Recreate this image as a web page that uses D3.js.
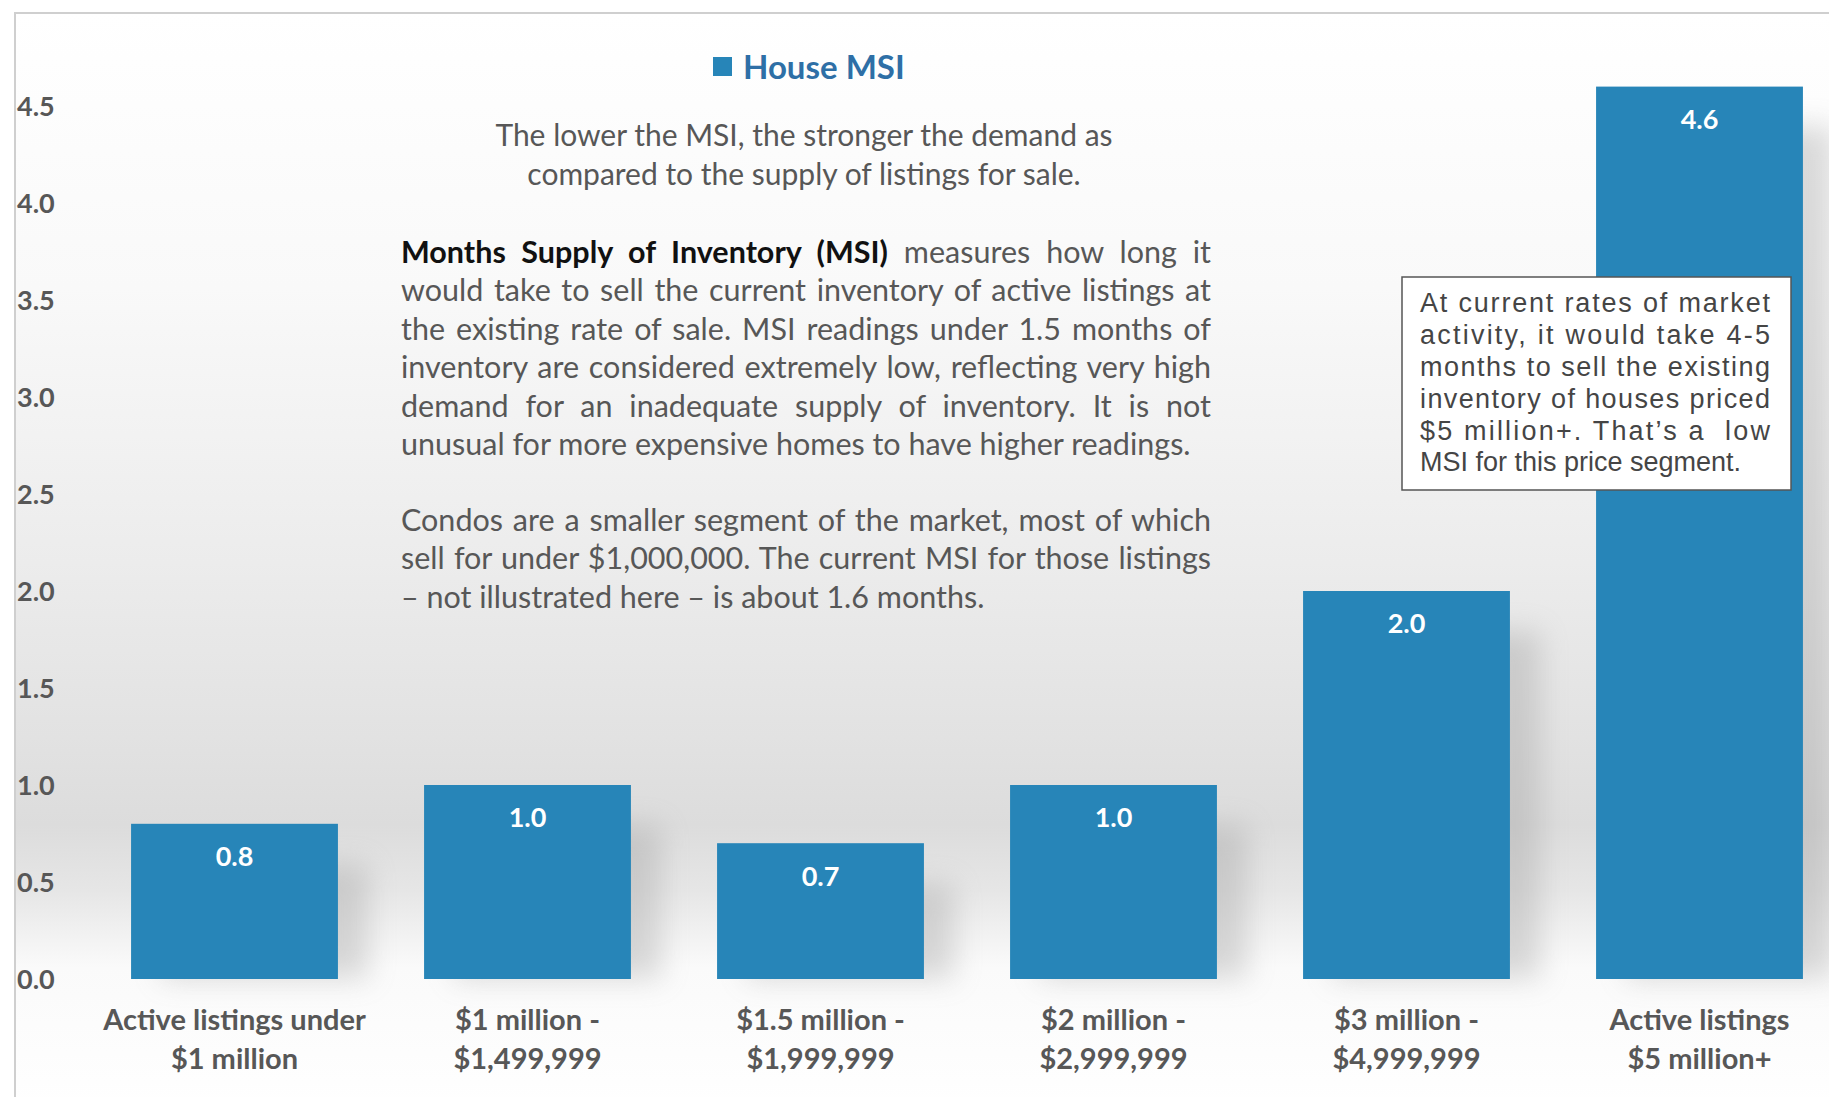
<!DOCTYPE html>
<html>
<head>
<meta charset="utf-8">
<script src="https://cdn.jsdelivr.net/npm/d3@7"></script>
<style>
  html, body { margin: 0; padding: 0; background: #fff; }
  svg { display: block; font-family: Lato, "Open Sans", sans-serif; }
</style>
</head>
<body>
<div id="chart"></div>
<script>
const categories = [
  ['Active listings under', '$1 million'],
  ['$1 million -', '$1,499,999'],
  ['$1.5 million -', '$1,999,999'],
  ['$2 million -', '$2,999,999'],
  ['$3 million -', '$4,999,999'],
  ['Active listings', '$5 million+'],
];
const houseMsi = [0.8, 1.0, 0.7, 1.0, 2.0, 4.6];
const yTicks = [0, 0.5, 1, 1.5, 2, 2.5, 3, 3.5, 4, 4.5];
const seriesName = 'House MSI';

const subtitleLines = [
  'The lower the MSI, the stronger the demand as',
  'compared to the supply of listings for sale.',
];
// [bold lead, rest, justify?]
const paragraphLines = [
  ['Months Supply of Inventory (MSI)', ' measures how long it', true],
  ['', 'would take to sell the current inventory of active listings at', true],
  ['', 'the existing rate of sale. MSI readings under 1.5 months of', true],
  ['', 'inventory are considered extremely low, reflecting very high', true],
  ['', 'demand for an inadequate supply of inventory. It is not', true],
  ['', 'unusual for more expensive homes to have higher readings.', false],
];
const condoLines = [
  ['Condos are a smaller segment of the market, most of which', true],
  ['sell for under $1,000,000. The current MSI for those listings', true],
  ['\u2013 not illustrated here \u2013 is about 1.6 months.', false],
];
const noteLines = [
  ['At current rates of market', true],
  ['activity, it would take 4-5', true],
  ['months to sell the existing', true],
  ['inventory of houses priced', true],
  ['$5 million+. That\u2019s a  low', true],
  ['MSI for this price segment.', false],
];

const width = 1829;
const height = 1097;
const barColor = '#2785b8';
const textGray = '#575757';

const svg = d3.select('#chart').append('svg')
  .attr('width', width)
  .attr('height', height);

const defs = svg.append('defs');
const bg = defs.append('linearGradient')
  .attr('id', 'bg')
  .attr('x1', 0).attr('y1', 0).attr('x2', 0).attr('y2', 1);
[[0, '#ffffff'], [0.25, '#f9f9f9'], [0.5, '#ececec'], [0.66, '#e2e2e2'],
 [0.74, '#dcdcdc'], [0.8, '#e6e6e6'], [0.87, '#fafafa'], [1, '#ffffff']]
  .forEach(([o, c]) => bg.append('stop').attr('offset', o).attr('stop-color', c));

const blur = defs.append('filter').attr('id', 'shadow')
  .attr('x', '-50%').attr('y', '-50%').attr('width', '200%').attr('height', '200%');
blur.append('feGaussianBlur').attr('stdDeviation', 14);

// spread the spaces so a line fills the given width
function justify(sel, target) {
  const node = sel.node();
  const natural = node.getComputedTextLength();
  const spaces = (node.textContent.match(/ /g) || []).length;
  if (spaces > 0) sel.attr('word-spacing', (target - natural) / spaces);
}

svg.append('rect')
  .attr('width', width)
  .attr('height', height)
  .attr('fill', '#fff');

svg.append('rect')
  .attr('x', 15)
  .attr('y', 13)
  .attr('width', width + 20)
  .attr('height', height)
  .attr('fill', 'url(#bg)')
  .attr('stroke', '#cfcfcf')
  .attr('stroke-width', 2);

const x = d3.scaleBand()
  .domain(d3.range(categories.length))
  .range([88, 1846])
  .paddingInner(0.294)
  .paddingOuter(0.147);

const y = d3.scaleLinear()
  .domain([0, 4.5])
  .range([979, 979 - 4.5 * 194]);

// y axis labels
const yAxis = svg.append('g')
  .attr('transform', 'translate(17,0)')
  .call(d3.axisLeft(y).tickValues(yTicks).tickSize(0).tickFormat(d3.format('.1f')));
yAxis.select('.domain').remove();
yAxis.selectAll('text')
  .attr('x', 0)
  .attr('dy', '0.35em')
  .attr('text-anchor', 'start')
  .attr('fill', textGray)
  .attr('font-family', 'Lato, sans-serif')
  .attr('font-weight', 700)
  .attr('font-size', 27);

// bar shadows
svg.append('g').selectAll('rect')
  .data(houseMsi)
  .join('rect')
  .attr('x', (d, i) => x(i) + 30)
  .attr('y', (d) => y(d) + 40)
  .attr('width', x.bandwidth())
  .attr('height', (d) => y(0) - y(d) - 40)
  .attr('fill', '#9a9a9a')
  .attr('opacity', 0.35)
  .attr('filter', 'url(#shadow)');

svg.append('g').selectAll('rect')
  .data(houseMsi)
  .join('rect')
  .attr('x', (d, i) => x(i))
  .attr('y', (d) => y(d))
  .attr('width', x.bandwidth())
  .attr('height', (d) => y(0) - y(d))
  .attr('fill', barColor);

svg.append('g').selectAll('text')
  .data(houseMsi)
  .join('text')
  .attr('x', (d, i) => x(i) + x.bandwidth() / 2)
  .attr('y', (d) => y(d) + 33)
  .attr('dy', '0.35em')
  .attr('text-anchor', 'middle')
  .attr('fill', '#fff')
  .attr('font-weight', 700)
  .attr('font-size', 27)
  .text((d) => d3.format('.1f')(d));

// x axis category labels
const xAxis = svg.append('g').selectAll('text')
  .data(categories)
  .join('text')
  .attr('x', (d, i) => x(i) + x.bandwidth() / 2)
  .attr('y', 1020)
  .attr('text-anchor', 'middle')
  .attr('fill', textGray)
  .attr('font-weight', 700)
  .attr('font-size', 29);
xAxis.selectAll('tspan')
  .data((d) => d)
  .join('tspan')
  .attr('x', function () { return this.parentNode.getAttribute('x'); })
  .attr('dy', (d, i) => (i === 0 ? '0.35em' : 39))
  .text((d) => d);

// legend
svg.append('rect')
  .attr('x', 713).attr('y', 57)
  .attr('width', 19).attr('height', 19)
  .attr('fill', barColor);
svg.append('text')
  .attr('x', 743).attr('y', 67)
  .attr('dy', '0.35em')
  .attr('fill', '#2e6fa6')
  .attr('font-weight', 700)
  .attr('font-size', 33)
  .text(seriesName);

// subtitle
svg.append('g').selectAll('text')
  .data(subtitleLines)
  .join('text')
  .attr('x', 804)
  .attr('y', (d, i) => 135 + i * 39)
  .attr('dy', '0.35em')
  .attr('text-anchor', 'middle')
  .attr('fill', textGray)
  .attr('font-size', 30)
  .text((d) => d);

// main paragraph, justified
const para = svg.append('g').attr('font-size', 30.5).attr('fill', textGray);
paragraphLines.forEach(([lead, rest, just], i) => {
  const t = para.append('text')
    .attr('x', 401)
    .attr('y', 252 + i * 38.5)
    .attr('dy', '0.35em');
  if (lead) t.append('tspan').attr('font-weight', 700).attr('fill', '#111').text(lead);
  t.append('tspan').text(rest);
  if (just) justify(t, 810);
});
condoLines.forEach(([line, just], i) => {
  const t = para.append('text')
    .attr('x', 401)
    .attr('y', 520 + i * 38.5)
    .attr('dy', '0.35em')
    .text(line);
  if (just) justify(t, 810);
});

// annotation box
svg.append('rect')
  .attr('x', 1402).attr('y', 277)
  .attr('width', 389).attr('height', 213)
  .attr('fill', '#fff')
  .attr('stroke', '#555')
  .attr('stroke-width', 1.5);
const note = svg.append('g')
  .attr('font-family', '"Liberation Sans", Arial, sans-serif')
  .attr('font-size', 27)
  .attr('fill', '#454545');
noteLines.forEach(([line, just], i) => {
  const t = note.append('text')
    .attr('x', 1420)
    .attr('y', 303 + i * 31.8)
    .attr('dy', '0.35em')
    .attr('xml:space', 'preserve')
    .text(line);
  if (just) t.attr('textLength', 350).attr('lengthAdjust', 'spacing');
});
</script>
</body>
</html>
